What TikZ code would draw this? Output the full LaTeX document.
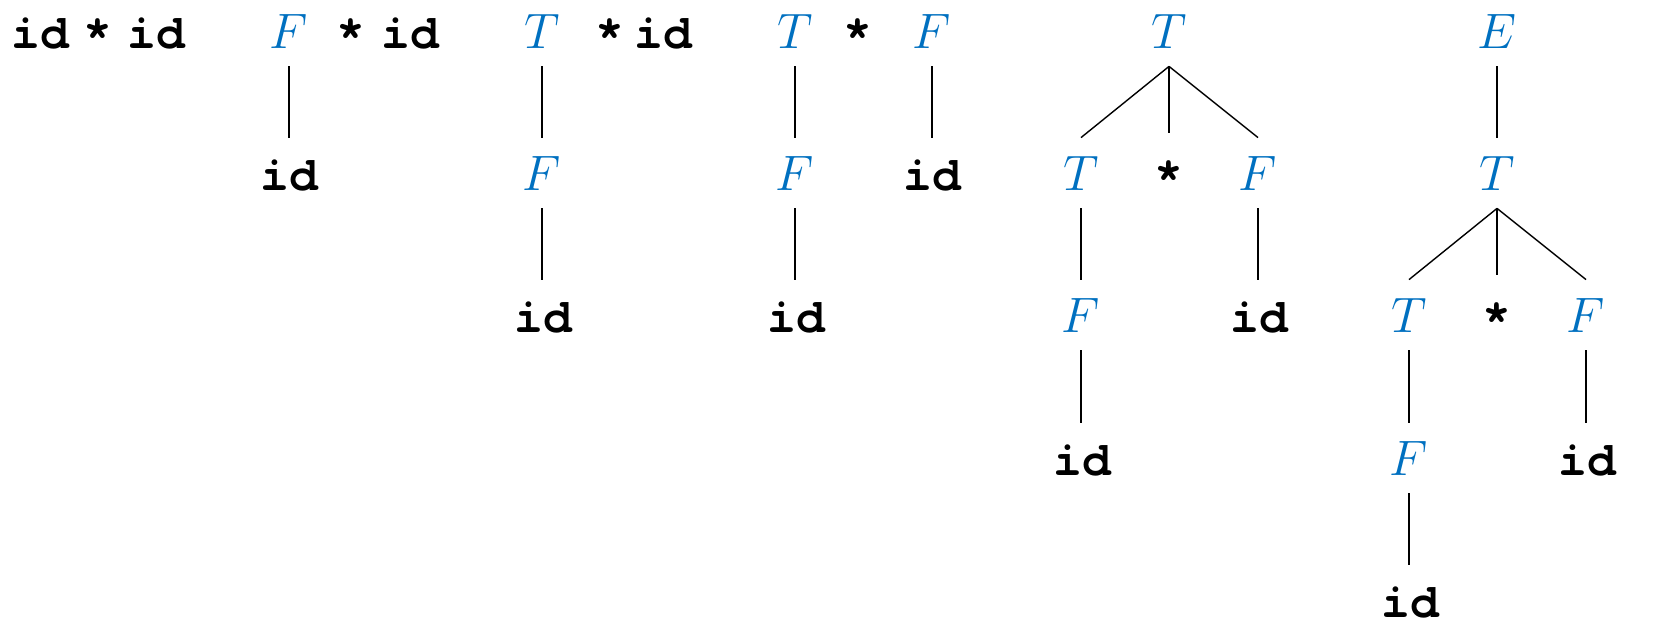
\documentclass[tikz,border=0pt]{standalone}
\usepackage{fontspec}
\setmonofont{TeX Gyre Cursor}
\definecolor{ntblue}{HTML}{0070C0}
\tikzset{
  sym/.style={anchor=base, inner xsep=0pt, inner ysep=0pt, text height=26pt, text depth=9pt, font=\fontsize{24}{28}\selectfont},
  nt/.style={sym, text=ntblue},
  tm/.style={sym, font=\fontsize{24}{28}\selectfont\ttfamily\bfseries},
  edge/.style={line width=0.7pt, black}
}
\newcommand{\NT}[1]{$#1$}
\begin{document}
\begin{tikzpicture}[x=0.5pt,y=-0.5pt]
\useasboundingbox (0,0) rectangle (1661,643);
% group 1
\node[tm] (a1) at (40.5,48) {id};
\node[tm] (a2) at (98,48) {*};
\node[tm] (a3) at (156.5,48) {id};
% group 2
\node[nt] (b1) at (289,48) {\NT{F}};
\node[tm] (b2) at (351,48) {*};
\node[tm] (b3) at (410,48) {id};
\node[tm] (b4) at (289,190) {id};
\draw[edge] (b1.south) -- (b1.south |- b4.north);
% group 3
\node[nt] (c1) at (542,48) {\NT{T}};
\node[tm] (c2) at (610,48) {*};
\node[tm] (c3) at (663,48) {id};
\node[nt] (c4) at (542,190) {\NT{F}};
\node[tm] (c5) at (543,332) {id};
\draw[edge] (c1.south) -- (c1.south |- c4.north);
\draw[edge] (c4.south) -- (c4.south |- c5.north);
% group 4
\node[nt] (d1) at (795,48) {\NT{T}};
\node[tm] (d2) at (858,48) {*};
\node[nt] (d3) at (932,48) {\NT{F}};
\node[nt] (d4) at (795,190) {\NT{F}};
\node[tm] (d5) at (932,190) {id};
\node[tm] (d6) at (796,332) {id};
\draw[edge] (d1.south) -- (d1.south |- d4.north);
\draw[edge] (d3.south) -- (d3.south |- d5.north);
\draw[edge] (d4.south) -- (d4.south |- d6.north);
% group 5
\node[nt] (e1) at (1169,48) {\NT{T}};
\node[nt] (e2) at (1081,190) {\NT{T}};
\node[tm] (e3) at (1169,190) {*};
\node[nt] (e4) at (1258,190) {\NT{F}};
\node[nt] (e5) at (1081,332) {\NT{F}};
\node[tm] (e6) at (1259,332) {id};
\node[tm] (e7) at (1082,475) {id};
\draw[edge] (e1.south) -- (e2.north);
\draw[edge, shorten >=2.5pt] (e1.south) -- (e3.north);
\draw[edge] (e1.south) -- (e4.north);
\draw[edge] (e2.south) -- (e2.south |- e5.north);
\draw[edge] (e4.south) -- (e4.south |- e6.north);
\draw[edge] (e5.south) -- (e5.south |- e7.north);
% group 6
\node[nt] (f1) at (1497,48) {\NT{E}};
\node[nt] (f2) at (1497,190) {\NT{T}};
\node[nt] (f3) at (1409,332) {\NT{T}};
\node[tm] (f4) at (1497,332) {*};
\node[nt] (f5) at (1586,332) {\NT{F}};
\node[nt] (f6) at (1409,475) {\NT{F}};
\node[tm] (f7) at (1587,475) {id};
\node[tm] (f8) at (1410,617) {id};
\draw[edge] (f1.south) -- (f1.south |- f2.north);
\draw[edge] (f2.south) -- (f3.north);
\draw[edge, shorten >=2.5pt] (f2.south) -- (f4.north);
\draw[edge] (f2.south) -- (f5.north);
\draw[edge] (f3.south) -- (f3.south |- f6.north);
\draw[edge] (f5.south) -- (f5.south |- f7.north);
\draw[edge] (f6.south) -- (f6.south |- f8.north);
\end{tikzpicture}
\end{document}
